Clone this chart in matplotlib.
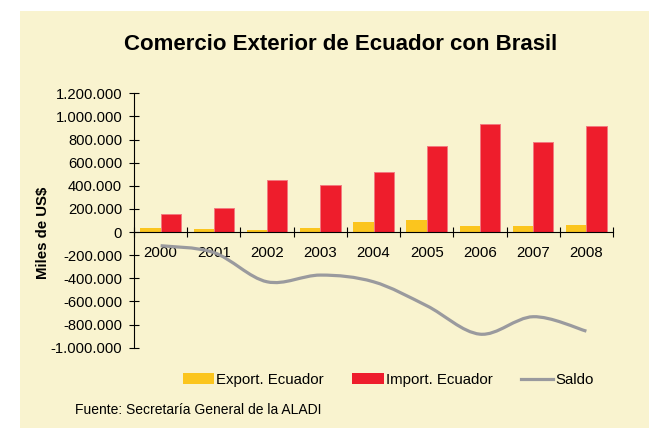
import matplotlib

matplotlib.use("Agg")
import matplotlib.pyplot as plt
from matplotlib.lines import Line2D
from matplotlib.patches import Patch, PathPatch, Rectangle
from matplotlib.path import Path
from matplotlib.ticker import FuncFormatter

plt.rcParams["font.family"] = ["Liberation Sans", "DejaVu Sans"]

# data (miles de US$)
years = ["2000", "2001", "2002", "2003", "2004", "2005", "2006", "2007", "2008"]
exports = [35000, 30000, 20000, 35000, 86000, 104000, 49000, 49000, 60000]
imports = [153000, 207000, 450000, 407000, 516000, 741000, 932000, 781000, 917000]
saldo = [-118000, -177000, -430000, -372000, -430000, -637000, -883000, -732000, -857000]

PANEL = "#F9F3CF"
YELLOW = "#FBC51E"
RED = "#EE1D2C"
GRAY = "#9A9A9E"

fig = plt.figure(figsize=(6.54, 4.28), dpi=100, facecolor="white")
fig.patches.append(Rectangle((20 / 654, 0), 629 / 654, 417 / 428,
                             transform=fig.transFigure, facecolor=PANEL,
                             edgecolor="none", zorder=-10))

ax = fig.add_axes([134 / 654, 1 - 347.7 / 428, 479 / 654, 254.4 / 428])
ax.set_facecolor("none")

x = list(range(len(years)))
w = 0.38
ax.bar([i - 0.19 for i in x], exports, width=w, color=YELLOW, zorder=2)
ax.bar([i + 0.19 for i in x], imports, width=w, color=RED,
       edgecolor="#F27A80", linewidth=0.7, zorder=2)

# smoothed saldo line (Catmull-Rom style bezier through the points)
pts = list(zip(x, saldo))
verts = [pts[0]]
codes = [Path.MOVETO]
for k in range(len(pts) - 1):
    p0 = pts[k - 1] if k > 0 else pts[k]
    p1 = pts[k]
    p2 = pts[k + 1]
    p3 = pts[k + 2] if k + 2 < len(pts) else pts[k + 1]
    c1 = (p1[0] + (p2[0] - p0[0]) / 6, p1[1] + (p2[1] - p0[1]) / 6)
    c2 = (p2[0] - (p3[0] - p1[0]) / 6, p2[1] - (p3[1] - p1[1]) / 6)
    verts += [c1, c2, p2]
    codes += [Path.CURVE4] * 3
ax.add_patch(PathPatch(Path(verts, codes), fill=False, edgecolor=GRAY,
                       linewidth=2.3, capstyle="butt", zorder=3))

ax.set_xlim(-0.5, len(years) - 0.5)
ax.set_ylim(-1000000, 1200000)
ax.set_yticks(range(-1000000, 1200001, 200000))
ax.yaxis.set_major_formatter(FuncFormatter(lambda v, p: f"{int(v):,}".replace(",", ".")))

ax.set_xticks([i - 0.5 for i in range(len(years) + 1)])
ax.set_xticklabels([])
ax.set_xticks(x, minor=True)
ax.set_xticklabels(years, minor=True)
ax.tick_params(axis="x", which="major", direction="inout", length=7, width=0.8)
ax.tick_params(axis="x", which="minor", length=0, pad=10, labelsize=10.8)
ax.tick_params(axis="y", direction="inout", length=7, width=0.8, pad=5, labelsize=10.6)

for s in ("top", "right"):
    ax.spines[s].set_visible(False)
ax.spines["bottom"].set_position(("data", 0))
ax.spines["bottom"].set_zorder(4)
ax.spines["left"].set_linewidth(0.8)
ax.spines["bottom"].set_linewidth(0.8)

fig.text(341 / 654, 1 - 44 / 428, "Comercio Exterior de Ecuador con Brasil",
         ha="center", va="center", fontsize=16, fontweight="bold")
fig.text(43 / 654, 1 - 233 / 428, "Miles de US$", rotation=90, ha="center",
         va="center", fontsize=10.8, fontweight="bold")

handles = [Patch(facecolor=YELLOW, edgecolor="none"),
           Patch(facecolor=RED, edgecolor="none"),
           Line2D([], [], color=GRAY, linewidth=2.3)]
fig.legend(handles, ["Export. Ecuador", "Import. Ecuador", "Saldo"],
           loc="center", bbox_to_anchor=(388 / 654, 1 - 380 / 428), ncol=3,
           frameon=False, fontsize=10.8, handlelength=2.1, handleheight=0.75,
           handletextpad=0.15, columnspacing=1.9)

fig.text(75 / 654, 1 - 410 / 428, "Fuente: Secretaría General de la ALADI",
         ha="left", va="center", fontsize=10)

fig.savefig("out.png", dpi=100, facecolor=fig.get_facecolor())
